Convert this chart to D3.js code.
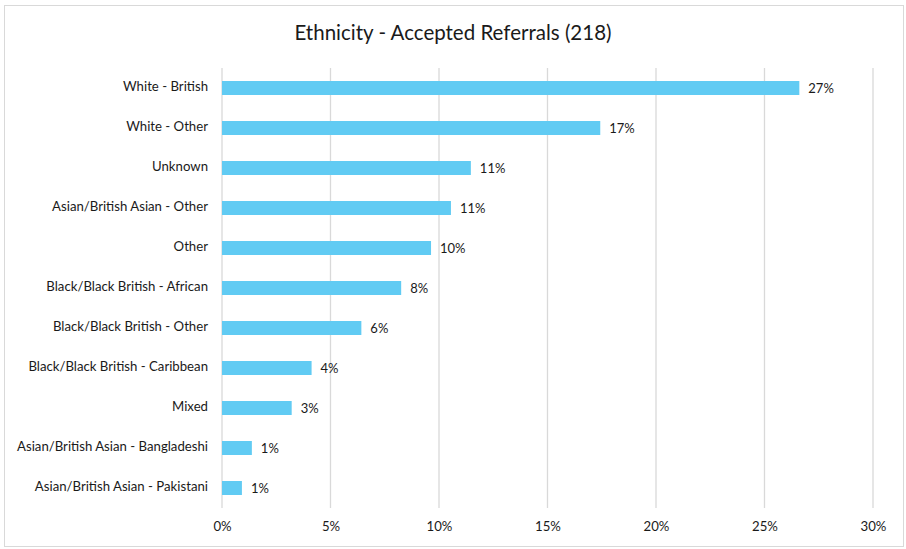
<!DOCTYPE html>
<html lang="en">
<head>
<meta charset="UTF-8">
<title>Ethnicity - Accepted Referrals</title>
<script src="https://d3js.org/d3.v7.min.js"></script>
<style>
  body { margin: 0; background: #fff; }
  svg { display: block; font-family: Lato, "Open Sans", sans-serif; }
</style>
</head>
<body>
<div id="chart"></div>
<script>
// data: counts out of 218 accepted referrals
const categories = [
  "White - British",
  "White - Other",
  "Unknown",
  "Asian/British Asian - Other",
  "Other",
  "Black/Black British - African",
  "Black/Black British - Other",
  "Black/Black British - Caribbean",
  "Mixed",
  "Asian/British Asian - Bangladeshi",
  "Asian/British Asian - Pakistani"
];
const counts = [58, 38, 25, 23, 21, 18, 14, 9, 7, 3, 2];
const total = 218;
const xTicks = [0, 0.05, 0.10, 0.15, 0.20, 0.25, 0.30];

const width = 906, height = 549;
const margin = { top: 68, right: 33, bottom: 41, left: 222 };

const svg = d3.select("#chart").append("svg")
  .attr("width", width)
  .attr("height", height);

// chart border
svg.append("rect")
  .attr("x", 4.5).attr("y", 5.5)
  .attr("width", 899).attr("height", 541)
  .attr("fill", "#fff")
  .attr("stroke", "#d9d9d9");

const data = categories.map((c, i) => ({ cat: c, val: counts[i] / total }));

const x = d3.scaleLinear()
  .domain([0, 0.30])
  .range([margin.left, width - margin.right]);

const y = d3.scaleBand()
  .domain(categories)
  .range([margin.top, height - margin.bottom])
  .paddingInner(0.65)
  .paddingOuter(0.325);

// gridlines
svg.append("g")
  .selectAll("line")
  .data(xTicks)
  .join("line")
  .attr("x1", d => x(d)).attr("x2", d => x(d))
  .attr("y1", margin.top).attr("y2", height - margin.bottom)
  .attr("stroke", "#d9d9d9")
  .attr("stroke-width", 1.3);

// x axis labels
const xAxis = d3.axisBottom(x)
  .tickValues(xTicks)
  .tickFormat(d3.format(".0%"))
  .tickSize(0)
  .tickPadding(14);

svg.append("g")
  .attr("transform", `translate(0,${height - margin.bottom})`)
  .call(xAxis)
  .call(g => g.select(".domain").remove())
  .selectAll("text")
  .attr("font-family", "Lato, 'Open Sans', sans-serif")
  .attr("font-size", 13.2)
  .attr("fill", "#1a1a1a");

// y axis labels
const yAxis = d3.axisLeft(y).tickSize(0).tickPadding(14);
svg.append("g")
  .attr("transform", `translate(${margin.left},0)`)
  .call(yAxis)
  .call(g => g.select(".domain").remove())
  .selectAll("text")
  .attr("font-family", "Lato, 'Open Sans', sans-serif")
  .attr("font-size", 13.2)
  .attr("dy", "0.25em")
  .attr("fill", "#1a1a1a");

// bars
svg.append("g")
  .selectAll("rect")
  .data(data)
  .join("rect")
  .attr("x", x(0))
  .attr("y", d => y(d.cat))
  .attr("width", d => x(d.val) - x(0))
  .attr("height", y.bandwidth())
  .attr("fill", "#61cbf3");

// data labels
svg.append("g")
  .selectAll("text")
  .data(data)
  .join("text")
  .attr("x", d => x(d.val) + 9)
  .attr("y", d => y(d.cat) + y.bandwidth() / 2)
  .attr("dy", "0.4em")
  .attr("font-size", 13)
  .attr("fill", "#1a1a1a")
  .text(d => d3.format(".0%")(d.val));

// title
svg.append("text")
  .attr("x", width / 2)
  .attr("y", 40)
  .attr("text-anchor", "middle")
  .attr("font-size", 20.5)
  .attr("fill", "#1a1a1a")
  .text("Ethnicity - Accepted Referrals (218)");
</script>
</body>
</html>
